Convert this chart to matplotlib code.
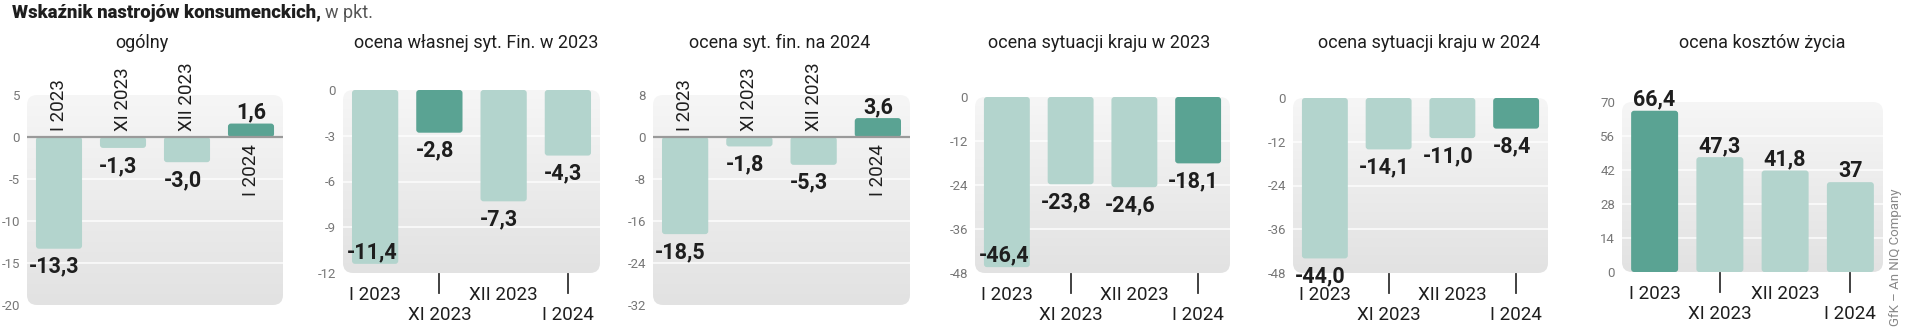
import numpy as np
import matplotlib
matplotlib.use('Agg')
import matplotlib.pyplot as plt
from matplotlib.patches import FancyBboxPatch
from matplotlib.colors import LinearSegmentedColormap
from matplotlib.text import Annotation
from matplotlib.transforms import blended_transform_factory

plt.rcParams['font.family'] = ['Roboto', 'DejaVu Sans']
plt.rcParams['axes.unicode_minus'] = False

W, H, DPI = 1920, 332, 100

# ─── data ────────────────────────────────────────────────────────────────────
months = ['I 2023', 'XI 2023', 'XII 2023', 'I 2024']

panel_titles = ['ogólny', 'ocena własnej syt. Fin. w 2023', 'ocena syt. fin. na 2024',
                'ocena sytuacji kraju w 2023', 'ocena sytuacji kraju w 2024',
                'ocena kosztów życia']

ogolny      = [-13.3, -1.3, -3.0, 1.6]
wlasna_2023 = [-11.4, -2.8, -7.3, -4.3]
fin_2024    = [-18.5, -1.8, -5.3, 3.6]
kraj_2023   = [-46.4, -23.8, -24.6, -18.1]
kraj_2024   = [-44.0, -14.1, -11.0, -8.4]
koszty      = [66.4, 47.3, 41.8, 37]

series = [ogolny, wlasna_2023, fin_2024, kraj_2023, kraj_2024, koszty]
highlight = [3, 1, 3, 3, 3, 0]      # index of the dark bar in each panel

yticks = [[5, 0, -5, -10, -15, -20],
          [0, -3, -6, -9, -12],
          [8, 0, -8, -16, -24, -32],
          [0, -12, -24, -36, -48],
          [0, -12, -24, -36, -48],
          [0, 14, 28, 42, 56, 70]]

# ─── layout (pixels: left, right, top, bottom of each plot box) ──────────────
boxes = [(27, 283, 95, 305), (343, 600, 90, 273), (653, 910, 95, 305),
         (975, 1230, 97, 273), (1293, 1548, 98, 273), (1622, 1883, 102, 272)]
title_x = [142, 476, 780, 1099, 1429, 1762]

LIGHT = '#b3d4cd'
DARK = '#5aa393'
TXT = '#1e1e1e'
TICK = '#777777'
BAR_W = 0.72

PT = 72.0 / DPI   # points per pixel

bg_cmap = LinearSegmentedColormap.from_list('bg', ['#f6f6f6', '#e2e2e2'])


def fmt(v):
    if isinstance(v, int):
        return str(v)
    return f'{v:.1f}'.replace('.', ',')


def rounded(x0, y0, w, h, r_px, px_x, px_y, **kw):
    return FancyBboxPatch((x0, y0), w, h,
                          boxstyle=f'round,pad=0,rounding_size={r_px / px_x}',
                          mutation_aspect=px_x / px_y, **kw)


fig = plt.figure(figsize=(W / DPI, H / DPI), dpi=DPI)
fig.patch.set_facecolor('white')

for k, (vals, box) in enumerate(zip(series, boxes)):
    l, r, t, b = box
    ax = fig.add_axes([l / W, 1 - b / H, (r - l) / W, (b - t) / H])
    ymin, ymax = min(yticks[k]), max(yticks[k])
    ax.set_xlim(-0.5, 3.5)
    ax.set_ylim(ymin, ymax)
    px_x = (r - l) / 4.0
    px_y = (b - t) / (ymax - ymin)
    for s in ax.spines.values():
        s.set_visible(False)
    ax.patch.set_visible(False)
    ax.set_xticks([])
    ax.set_yticks(yticks[k])
    ax.set_yticklabels([str(v) for v in yticks[k]])
    ax.tick_params(axis='y', length=0, pad=5, labelsize=9.5, labelcolor=TICK)

    # rounded gradient background
    frame = rounded(-0.5, ymin, 4, ymax - ymin, 10, px_x, px_y,
                    facecolor='none', edgecolor='none', transform=ax.transData)
    ax.add_patch(frame)
    grad = np.linspace(0, 1, 256).reshape(-1, 1)
    im = ax.imshow(grad, extent=(-0.5, 3.5, ymin, ymax), aspect='auto',
                   cmap=bg_cmap, origin='upper', zorder=0)
    im.set_clip_path(frame)

    for tv in yticks[k]:
        if ymin < tv < ymax and tv != 0:
            ax.axhline(tv, color='white', lw=1.1, alpha=0.9, zorder=0.5)

    colors = [DARK if i == highlight[k] else LIGHT for i in range(len(vals))]
    bars = ax.bar(range(len(vals)), vals, width=BAR_W, color=colors)
    for rect in bars:
        bb = rect.get_bbox()
        y0, y1 = min(bb.y0, bb.y1), max(bb.y0, bb.y1)
        ax.add_patch(rounded(bb.x0, y0, bb.x1 - bb.x0, y1 - y0, 3, px_x, px_y,
                             facecolor=rect.get_facecolor(), edgecolor='none',
                             zorder=2))
        rect.remove()

    crosses_zero = ymin < 0 < ymax
    if crosses_zero:
        ax.axhline(0, color='#9a9a9a', lw=1.6, zorder=3)

    # value labels
    for i, v in enumerate(vals):
        if v >= 0:
            ax.annotate(fmt(v), (i, v), xytext=(0, 5 * PT), textcoords='offset points',
                        ha='center', va='baseline', fontsize=15.5, fontweight='bold',
                        color=TXT, zorder=4)
        elif (v - ymin) * px_y < 12:
            ax.annotate(fmt(v), (i, v), xytext=(-3 * PT, 6 * PT), textcoords='offset points',
                        ha='center', va='baseline', fontsize=15.5, fontweight='bold',
                        color=TXT, zorder=4)
        else:
            ax.annotate(fmt(v), (i, v), xytext=(-4.5 * PT, -7 * PT), textcoords='offset points',
                        ha='center', va='top', fontsize=15.5, fontweight='bold',
                        color=TXT, zorder=4, annotation_clip=False)

    # category labels
    if crosses_zero:
        for i, (lab, v) in enumerate(zip(months, vals)):
            if v < 0:
                ax.annotate(lab, (i, 0), xytext=(0, 6 * PT), textcoords='offset points',
                            rotation=90, ha='center', va='bottom', fontsize=13.5, color=TXT)
            else:
                ax.annotate(lab, (i, 0), xytext=(0, -7 * PT), textcoords='offset points',
                            rotation=90, ha='center', va='top', fontsize=13.5, color=TXT)
    else:
        tr = blended_transform_factory(ax.transData, ax.transAxes)
        hpx = b - t
        for i, lab in enumerate(months):
            off = 22 if i % 2 == 0 else 42
            ax.annotate(lab, (i, ymin), xytext=(0, -off * PT), textcoords='offset points',
                        ha='center', va='center', fontsize=13.5, color=TXT,
                        annotation_clip=False)
            if i % 2 == 1:
                ax.plot([i, i], [-1 / hpx, -20 / hpx], color='#333333', lw=1.3,
                        transform=tr, clip_on=False)

    fig.text(title_x[k] / W, 1 - 43 / H, panel_titles[k], ha='center', va='center',
             fontsize=13, color=TXT)

# header
head = fig.text(12 / W, 1 - 13 / H, 'Wskaźnik nastrojów konsumenckich,', ha='left',
                va='center', fontsize=13.3, fontweight='black', color=TXT)
fig.add_artist(Annotation('w pkt.', xy=(1, 0.5), xycoords=head, xytext=(4 * PT, 0),
                          textcoords='offset points', ha='left', va='center',
                          fontsize=13, color='#555555'))

fig.text(1895 / W, 1 - 257 / H, 'GfK – An NIQ Company', rotation=90, ha='center',
         va='center', fontsize=9.5, color='#888888')

fig.savefig('out.png', dpi=DPI)
